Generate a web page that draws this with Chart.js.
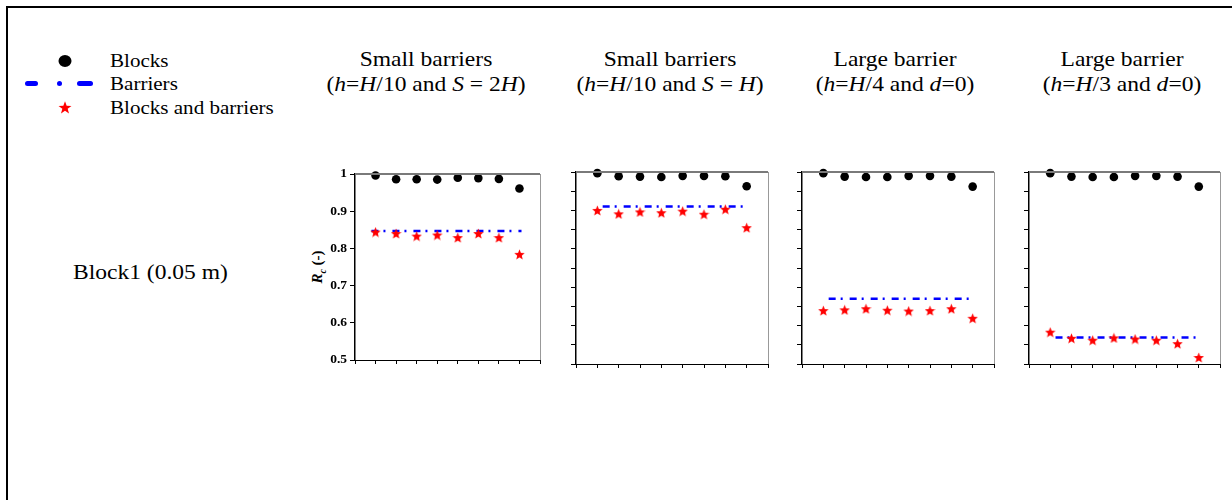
<!DOCTYPE html>
<html>
<head>
<meta charset="utf-8">
<script src="https://cdn.jsdelivr.net/npm/chart.js@4.4.1/dist/chart.umd.min.js"></script>
<style>
  html, body { margin:0; padding:0; background:#fff; }
  body { width:1232px; height:500px; position:relative; overflow:hidden; font-family:"Liberation Serif","Times New Roman",serif; color:#000; }
  .frame { position:absolute; left:6px; top:6px; width:1240px; height:520px; border-top:2px solid #000; border-left:2px solid #000; }
  .title { position:absolute; top:47px; font-size:21px; line-height:25px; white-space:nowrap; text-align:center; transform:translateX(-50%) scaleX(1.12); }
  .lg { position:absolute; left:110px; font-size:18px; line-height:20px; white-space:nowrap; transform-origin:left center; transform:scaleX(1.17); }
  .row { position:absolute; left:73px; top:260px; font-size:21px; line-height:24px; white-space:nowrap; transform-origin:left center; transform:scaleX(1.12); }
  .ylab { position:absolute; left:318px; top:267px; font-size:15px; font-weight:bold; white-space:nowrap; transform:translate(-50%,-50%) rotate(-90deg); }
  .ylab sub { font-size:10px; }
  canvas.pc { position:absolute; }
</style>
</head>
<body>
<div class="frame"></div>

<svg width="120" height="130" style="position:absolute;left:0;top:0">
  <ellipse cx="65" cy="61" rx="6.5" ry="6" fill="#000"/>
  <line x1="27.5" y1="83.5" x2="35.5" y2="83.5" stroke="#0000ff" stroke-width="5" stroke-linecap="round"/>
  <circle cx="59.5" cy="83.5" r="2.5" fill="#0000ff"/>
  <line x1="79.5" y1="83.5" x2="90.5" y2="83.5" stroke="#0000ff" stroke-width="5" stroke-linecap="round"/>
  <polygon id="lstar" fill="#ff0000"/>
</svg>
<div class="lg" style="top:51px">Blocks</div>
<div class="lg" style="top:74px">Barriers</div>
<div class="lg" style="top:98px">Blocks and barriers</div>

<div class="title" style="left:426px">Small barriers<br>(<i>h</i>=<i>H</i>/10 and <i>S</i> = 2<i>H</i>)</div>
<div class="title" style="left:670px">Small barriers<br>(<i>h</i>=<i>H</i>/10 and <i>S</i> = <i>H</i>)</div>
<div class="title" style="left:895px">Large barrier<br>(<i>h</i>=<i>H</i>/4 and <i>d</i>=0)</div>
<div class="title" style="left:1122px">Large barrier<br>(<i>h</i>=<i>H</i>/3 and <i>d</i>=0)</div>

<div class="row">Block1 (0.05 m)</div>
<div class="ylab"><i>R</i><sub><i>c</i></sub> (-)</div>

<script>
// ---------------- DATA ----------------
const caseIndex = [1, 2, 3, 4, 5, 6, 7, 8];
const yTickValues = [0.5, 0.6, 0.7, 0.8, 0.9, 1];

const blocksP1 = [0.996, 0.986, 0.986, 0.985, 0.990, 0.989, 0.987, 0.961];
const blocksP2 = [0.997, 0.989, 0.988, 0.987, 0.990, 0.990, 0.989, 0.963];
const blocksP3 = [0.997, 0.988, 0.987, 0.987, 0.990, 0.990, 0.988, 0.962];
const blocksP4 = [0.997, 0.988, 0.987, 0.987, 0.990, 0.990, 0.988, 0.962];

const barrierLevel = [0.847, 0.910, 0.670, 0.569];
const barrierStartX = [0.8, 1.25, 1.25, 1.25];
const barrierEndX = [8.1, 8.1, 8.1, 8.1];

const comboP1 = [0.844, 0.840, 0.833, 0.836, 0.829, 0.840, 0.829, 0.784];
const comboP2 = [0.900, 0.891, 0.896, 0.894, 0.898, 0.890, 0.903, 0.855];
const comboP3 = [0.639, 0.641, 0.644, 0.640, 0.638, 0.639, 0.644, 0.619];
const comboP4 = [0.583, 0.567, 0.562, 0.568, 0.565, 0.562, 0.553, 0.517];

const blocksAll = [blocksP1, blocksP2, blocksP3, blocksP4];
const comboAll = [comboP1, comboP2, comboP3, comboP4];

// ---------------- LAYOUT ----------------
const areas = [
  {l:355, t:174, r:540, b:360},
  {l:576, t:172, r:768, b:364},
  {l:802, t:172, r:994, b:364},
  {l:1029, t:172, r:1220, b:364}
];
const PL = 65, PT = 14, PR = 10, PB = 16;

function starPoints(cx, cy, ro, ri) {
  const pts = [];
  for (let i = 0; i < 10; i++) {
    const r = i % 2 === 0 ? ro : ri;
    const a = -Math.PI / 2 + i * Math.PI / 5;
    pts.push([cx + r * Math.cos(a), cy + r * Math.sin(a)]);
  }
  return pts;
}
document.getElementById('lstar').setAttribute('points',
  starPoints(65, 108, 6.8, 2.8).map(p => p[0].toFixed(2) + ',' + p[1].toFixed(2)).join(' '));

function makeStar(size, color) {
  const c = document.createElement('canvas');
  c.width = size; c.height = size;
  const g = c.getContext('2d');
  const pts = starPoints(size / 2, size / 2 + 0.5, size / 2, size / 4.6);
  g.beginPath();
  pts.forEach((p, i) => i ? g.lineTo(p[0], p[1]) : g.moveTo(p[0], p[1]));
  g.closePath();
  g.fillStyle = color;
  g.fill();
  return c;
}
const starImg = makeStar(11, '#ff0000');

const frameLines = {
  id: 'frameLines',
  afterDatasetsDraw(chart) {
    const {ctx, chartArea: a} = chart;
    ctx.save();
    ctx.strokeStyle = '#7a7a7a';
    ctx.lineWidth = 2;
    ctx.beginPath(); ctx.moveTo(a.left, a.top); ctx.lineTo(a.right, a.top); ctx.stroke();
    ctx.strokeStyle = '#999';
    ctx.lineWidth = 1;
    ctx.beginPath(); ctx.moveTo(a.right + 0.5, a.top); ctx.lineTo(a.right + 0.5, a.bottom); ctx.stroke();
    ctx.restore();
  }
};

areas.forEach((a, i) => {
  const cv = document.createElement('canvas');
  cv.className = 'pc';
  const w = a.r - a.l + PL + PR, h = a.b - a.t + PT + PB;
  cv.width = w; cv.height = h;
  cv.style.left = (a.l - PL) + 'px';
  cv.style.top = (a.t - PT) + 'px';
  cv.style.width = w + 'px';
  cv.style.height = h + 'px';
  document.body.appendChild(cv);

  new Chart(cv, {
    type: 'scatter',
    data: {
      datasets: [
        {
          label: 'Blocks and barriers',
          data: caseIndex.map((x, k) => ({x, y: comboAll[i][k]})),
          pointStyle: starImg,
          clip: false
        },
        {
          label: 'Blocks',
          data: caseIndex.map((x, k) => ({x, y: blocksAll[i][k]})),
          pointStyle: 'circle',
          pointRadius: 4.3,
          backgroundColor: '#000',
          borderColor: '#000',
          borderWidth: 0,
          clip: false
        },
        {
          type: 'line',
          label: 'Barriers',
          data: [{x: barrierStartX[i], y: barrierLevel[i]}, {x: barrierEndX[i], y: barrierLevel[i]}],
          borderColor: '#0000ff',
          borderWidth: 2.5,
          borderDash: [7, 5, 2, 7],
          pointRadius: 0,
          fill: false,
          clip: false
        }
      ]
    },
    options: {
      responsive: false,
      animation: false,
      events: [],
      layout: {padding: {top: PT, right: PR, left: 0, bottom: 0}},
      plugins: {legend: {display: false}, tooltip: {enabled: false}},
      scales: {
        x: {
          type: 'linear', min: 0, max: 9,
          afterFit: s => { s.height = PB; },
          ticks: {display: false, stepSize: 1},
          grid: {display: true, drawOnChartArea: false, drawTicks: true, tickLength: 4, color: '#000', lineWidth: 1},
          border: {display: true, color: '#000', width: 1}
        },
        y: {
          type: 'linear', min: 0.5, max: 1,
          afterFit: s => { s.width = PL; },
          afterBuildTicks: s => {
            const t = [];
            yTickValues.forEach((v, k) => {
              t.push({value: v});
              if (k < yTickValues.length - 1) t.push({value: +(v + 0.05).toFixed(2)});
            });
            s.ticks = t;
          },
          ticks: {
            display: i === 0,
            padding: 3,
            color: '#000',
            font: {family: 'Liberation Serif', size: 13.5, weight: 'bold'},
            callback: v => yTickValues.some(t => Math.abs(t - v) < 1e-6) ? (v === 1 ? '1' : v.toFixed(1)) : ''
          },
          grid: {display: true, drawOnChartArea: false, drawTicks: true, tickLength: 5, color: '#000', lineWidth: 1},
          border: {display: true, color: '#000', width: 1.5}
        }
      }
    },
    plugins: [frameLines]
  });
});
</script>
</body>
</html>
